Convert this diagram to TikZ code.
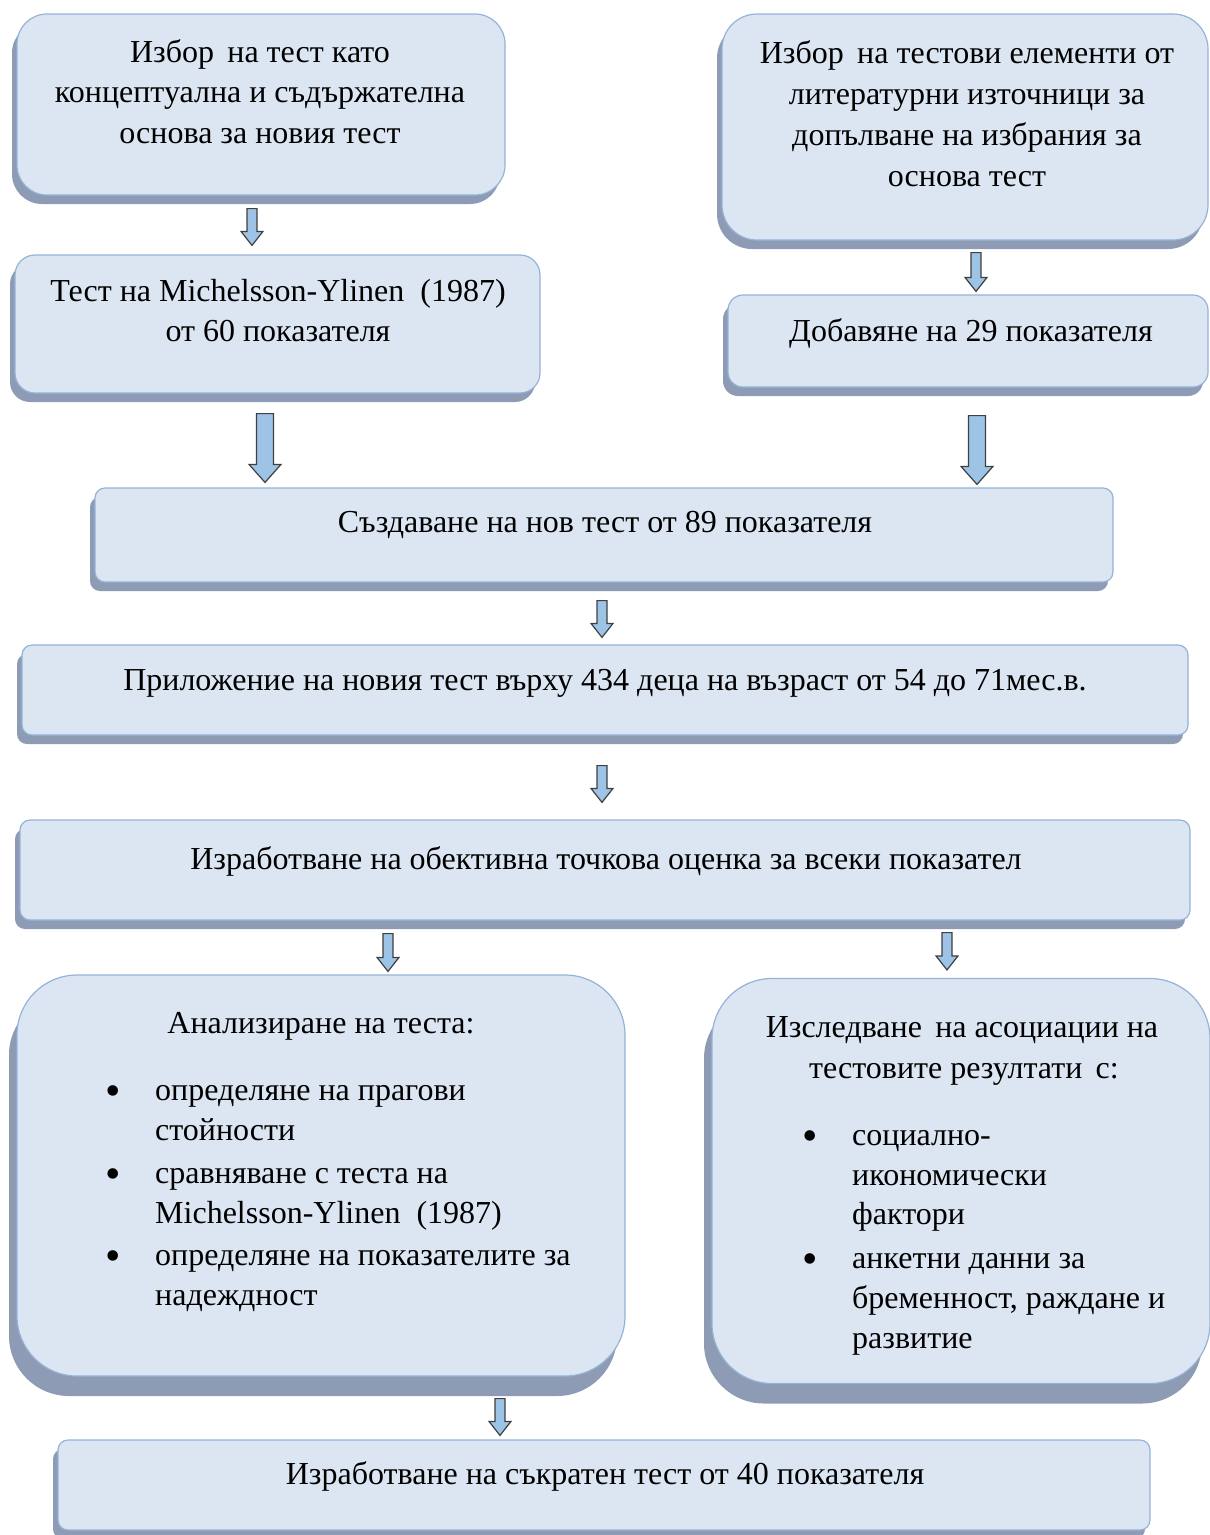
\documentclass[tikz,border=0pt]{standalone}
\usepackage{fontspec}
\setmainfont{Liberation Serif}
\usetikzlibrary{calc,shadows}
\definecolor{boxfill}{RGB}{220,230,242}
\definecolor{boxline}{RGB}{149,179,215}
\definecolor{shadowc}{RGB}{141,155,180}
\definecolor{arrfill}{RGB}{157,195,230}
\definecolor{arrline}{RGB}{64,64,64}
\tikzset{
 box/.style={draw=boxline, line width=1.2pt, fill=boxfill, rectangle, inner sep=0pt,
   drop shadow={shadow xshift=-5pt, shadow yshift=-9pt, fill=shadowc, opacity=1, draw=none}},
 bigbox/.style={draw=boxline, line width=1.2pt, fill=boxfill, rectangle, inner sep=0pt,
   drop shadow={shadow xshift=-8pt, shadow yshift=-20pt, fill=shadowc, opacity=1, draw=none}},
 txt/.style={font=\fontsize{32}{41}\selectfont, inner sep=0pt, anchor=base},
 ltxt/.style={txt, anchor=base west},
 bul/.style={inner sep=0pt, anchor=base, font=\fontsize{44}{44}\selectfont},
 arr/.style={draw=arrline, fill=arrfill, line width=1.2pt, line join=miter},
}
% start, end, shaft half width, head half width, head length
\newcommand\blockarr[5]{\draw[arr] let \p1=(#1), \p2=(#2) in
  (\x1-#3,\y1) -- (\x1+#3,\y1) -- (\x1+#3,\y2+#5) -- (\x1+#4,\y2+#5) -- (\x1,\y2)
  -- (\x1-#4,\y2+#5) -- (\x1-#3,\y2+#5) -- cycle;}
\newcommand\smallarr[2]{\blockarr{#1}{#2}{5pt}{11pt}{14pt}}
\newcommand\bigarr[2]{\blockarr{#1}{#2}{8.5pt}{16pt}{18pt}}
\begin{document}
\begin{tikzpicture}[x=1pt,y=-1pt]
\useasboundingbox (0,0) rectangle (1210,1535);
% boxes
\node[box, minimum width=488pt, minimum height=181pt, rounded corners=30pt] (A) at (261,104.5) {};
\node[box, minimum width=486pt, minimum height=226pt, rounded corners=35pt] (B) at (965,127) {};
\node[box, minimum width=525pt, minimum height=138pt, rounded corners=20pt] (C) at (277.5,324) {};
\node[box, minimum width=480pt, minimum height=92pt, rounded corners=15pt] (D) at (968,341) {};
\node[box, minimum width=1018pt, minimum height=94pt, rounded corners=10pt] (E) at (604,535) {};
\node[box, minimum width=1166pt, minimum height=90pt, rounded corners=10pt] (F) at (605,690) {};
\node[box, minimum width=1170pt, minimum height=100pt, rounded corners=10pt] (G) at (605,870) {};
\node[bigbox, minimum width=608pt, minimum height=401pt, rounded corners=60pt] (H) at (321,1175.5) {};
\node[bigbox, minimum width=498pt, minimum height=405pt, rounded corners=60pt] (I) at (961,1181) {};
\node[box, minimum width=1092pt, minimum height=90pt, rounded corners=10pt] (J) at (604,1485) {};
% texts
\node[txt] (tA1) at (260,62) {Избор\, на тест като};
\node[txt] (tA2) at (260,102) {концептуална и съдържателна};
\node[txt] (tA3) at (260,143) {основа за новия тест};
\node[txt] (tB1) at (967,63) {Избор\, на тестови елементи от};
\node[txt] (tB2) at (967,104) {литературни източници за};
\node[txt] (tB3) at (967,145) {допълване на избрания за};
\node[txt] (tB4) at (967,186) {основа тест};
\node[txt] (tC1) at (278,301) {Тест на Michelsson-Ylinen\ \ (1987)};
\node[txt] (tC2) at (278,341) {от 60 показателя};
\node[txt] (tD1) at (971,341) {Добавяне на 29 показателя};
\node[txt] (tE1) at (605,532) {Създаване на нов тест от 89 показателя};
\node[txt] (tF1) at (605,690) {Приложение на новия тест върху 434 деца на възраст от 54 до 71мес.в.};
\node[txt] (tG1) at (606,869) {Изработване на обективна точкова оценка за всеки показател};
\node[txt] (tH0) at (321,1033) {Анализиране на теста:};
\node[bul] (bH1) at (113,1105) {•};
\node[ltxt] (tH1) at (155,1100) {определяне на прагови};
\node[ltxt] (tH2) at (155,1140) {стойности};
\node[bul] (bH2) at (113,1188) {•};
\node[ltxt] (tH3) at (155,1183) {сравняване с теста на};
\node[ltxt] (tH4) at (155,1223) {Michelsson-Ylinen\ \ (1987)};
\node[bul] (bH3) at (113,1270) {•};
\node[ltxt] (tH5) at (155,1265) {определяне на показателите за};
\node[ltxt] (tH6) at (155,1305) {надеждност};
\node[txt] (tI1) at (962,1037) {Изследване\, на асоциации на};
\node[txt] (tI2) at (964,1078) {тестовите резултати\, с:};
\node[bul] (bI1) at (810,1150) {•};
\node[ltxt] (tI3) at (852,1145) {социално-};
\node[ltxt] (tI4) at (852,1185) {икономически};
\node[ltxt] (tI5) at (852,1224) {фактори};
\node[bul] (bI2) at (810,1273) {•};
\node[ltxt] (tI6) at (852,1268) {анкетни данни за};
\node[ltxt] (tI7) at (852,1308) {бременност, раждане и};
\node[ltxt] (tI8) at (852,1348) {развитие};
\node[txt] (tJ1) at (605,1484) {Изработване на съкратен тест от 40 показателя};
% arrows
\smallarr{$(A.south)+(-9,13)$}{$(C.north)+(-25.5,-9)$}
\smallarr{$(B.south)+(11,12)$}{$(D.north)+(8,-3)$}
\bigarr{$(C.south)+(-12.5,20)$}{$(E.north)+(-339,-5)$}
\bigarr{$(D.south)+(9,28)$}{$(E.north)+(373,-3)$}
\smallarr{$(E.south)+(-2,18)$}{$(F.north)+(-3,-7)$}
\smallarr{$(F.south)+(-3,30)$}{$(G.north)+(-3,-17)$}
\smallarr{$(G.south)+(-217,13)$}{$(H.north)+(67,-3)$}
\smallarr{$(G.south)+(342,12)$}{$(I.north)+(-14,-8)$}
\smallarr{$(H.south)+(179,22)$}{$(J.north)+(-104,-4)$}
\end{tikzpicture}
\end{document}
